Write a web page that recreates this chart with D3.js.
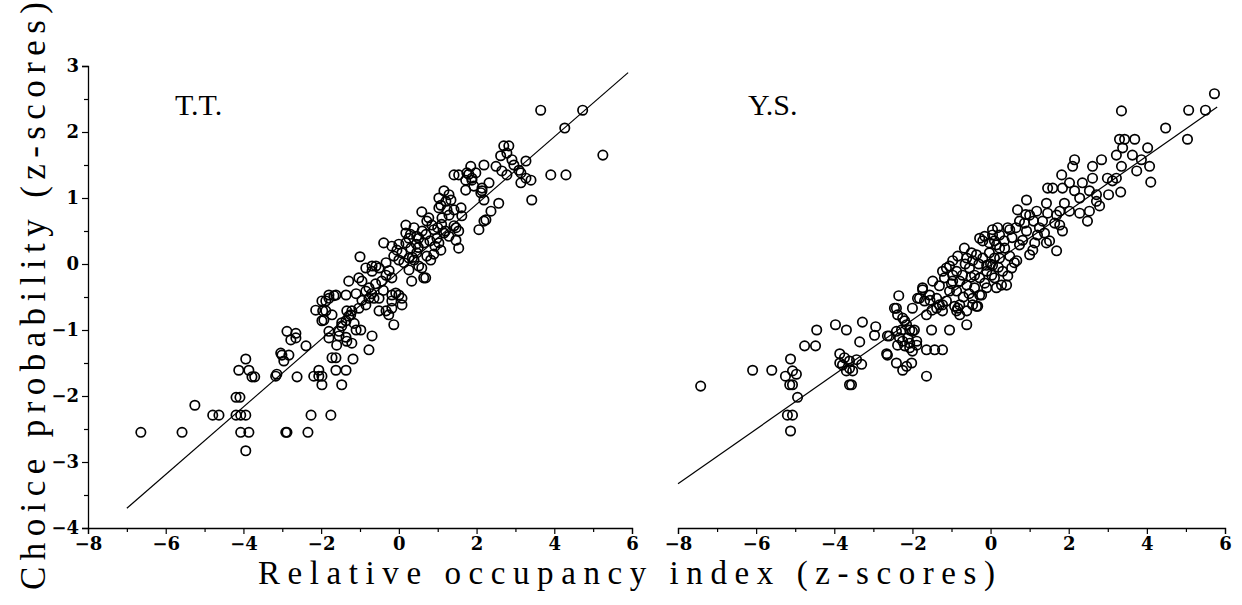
<!DOCTYPE html>
<html><head><meta charset="utf-8">
<script src="https://cdn.jsdelivr.net/npm/d3@7"></script>
<style>body{margin:0;background:#fff}</style>
</head><body>
<svg id="c" width="1242" height="605"></svg>
<script>
const xTickValues = [-8,-7,-6,-5,-4,-3,-2,-1,0,1,2,3,4,5,6];
const yTickValues = [-4,-3.5,-3,-2.5,-2,-1.5,-1,-0.5,0,0.5,1,1.5,2,2.5,3];
const panelLabels = ["T.T.", "Y.S."];
const xTitle = "Relative occupancy index (z-scores)";
const yTitle = "Choice probability (z-scores)";
const ttFit = [[-7,-3.7],[5.9,2.9]];
const ysFit = [[-8,-3.33],[5.8,2.38]];

const ttPoints = [
[-6.64,-2.55],[-5.58,-2.55],[-5.25,-2.14],[-4.79,-2.29],[-4.63,-2.29],[-4.19,-2.02],[-4.09,-2.02],[-4.19,-2.29],[-4.07,-2.29],[-3.94,-2.29],
[-4.07,-2.55],[-3.86,-2.55],[-3.94,-2.83],[-4.12,-1.61],[-3.94,-1.44],[-3.86,-1.61],[-3.78,-1.71],[-3.71,-1.71],[-3.17,-1.70],[-3.14,-1.67],
[-3.01,-1.38],[-3.04,-1.35],[-2.83,-1.38],[-2.96,-1.47],[-2.88,-1.02],[-2.65,-1.05],[-2.78,-1.15],[-2.65,-1.12],[-2.91,-2.55],[-2.88,-2.55],
[-2.34,-2.55],[-2.26,-2.29],[-1.75,-2.29],[-2.62,-1.71],[-2.39,-1.24],[-2.19,-1.70],[-2.06,-1.70],[-1.98,-1.70],[-1.98,-1.83],[-2.06,-1.61],
[-1.72,-1.42],[-1.62,-1.42],[-1.62,-1.61],[-1.36,-1.61],[-1.47,-1.83],[-1.18,-1.44],[-0.98,-1.00],[-0.69,-1.09],[-0.77,-1.30],
[-1.96,-0.71],[-1.88,-0.56],[-1.80,-0.52],[-1.67,-0.48],[-2.14,-0.70],[-1.93,-0.85],[-1.80,-1.12],[-1.54,-1.09],[-1.36,-1.11],[-1.60,-1.23],
[-1.34,-1.17],[-1.21,-1.20],[-1.47,-0.94],[-1.29,-0.79],[-1.21,-0.71],[-1.03,-0.67],[-0.85,-0.62],[-0.77,-0.52],[-0.85,-0.41],[-0.95,-0.26],
[-1.29,-0.26],[-0.69,-0.11],[-0.51,-0.06],[-0.33,-0.17],[-0.18,-0.21],[-0.18,-0.47],[-0.18,-0.67],[-0.13,-0.92],[-0.26,-0.77],[-0.51,-0.71],
[-0.44,-0.26],[-0.85,-0.06],[-1.00,0.11],[-1.80,-0.47],[-1.62,-0.47],[-1.36,-0.47],[-1.98,-0.56],[-1.88,-0.71],[-1.72,-0.77],[-1.98,-0.86],
[-1.80,-1.02],[-1.54,-1.02],[-1.34,-0.71],[-1.24,-0.77],[-1.36,-0.86],[-1.47,-0.89],[-1.03,-0.21],[-0.77,-0.36],[-0.64,-0.52],[-0.59,-0.03],
[-0.69,-0.03],[-0.25,-0.10],[-0.40,-0.40],[-0.60,-0.30],[-0.70,-0.45],[-1.10,-0.45],[-0.95,-0.55],[-1.15,-0.90],[-1.10,-1.00],
[-0.33,0.02],[-0.39,0.32],[-0.18,0.27],[-0.05,0.21],[0.08,0.17],[0.00,0.06],[0.13,0.02],[0.26,0.09],[-0.13,0.12],[0.18,0.32],
[0.31,0.24],[0.46,0.17],[0.39,0.06],[0.51,-0.03],[0.26,-0.09],[0.33,-0.26],[0.64,-0.21],[0.69,-0.21],[0.59,-0.06],[0.72,0.12],
[0.82,0.06],[0.00,-0.47],[0.08,-0.62],[-0.18,-0.56],[-0.51,-0.52],[-0.33,-0.71],[-0.08,-0.44],[0.08,-0.52],[0.18,0.47],[0.26,0.39],
[0.46,0.42],[0.39,0.55],[0.18,0.59],[0.59,0.79],[0.72,0.65],[0.77,0.70],[0.85,0.59],[0.90,0.52],[0.98,0.39],[1.11,0.70],
[1.16,0.47],[1.29,0.74],[1.29,0.42],[1.42,0.82],[1.42,0.58],[1.60,0.85],[1.62,0.73],[1.47,0.55],[1.54,0.50],[1.47,0.36],
[1.54,0.24],[1.08,0.21],[1.03,0.32],[0.93,0.27],[0.64,0.32],[0.51,0.39],[1.16,1.11],[1.03,1.00],[1.29,1.05],[1.34,0.97],
[1.08,0.89],[1.21,0.95],[1.03,0.85],[1.24,0.82],[0.50,0.25],[0.60,0.50],[0.70,0.45],[0.80,0.35],[1.00,0.55],[1.10,0.60],
[1.20,0.50],[0.35,0.10],[0.45,0.30],[0.90,0.15],[0.30,0.45],[0.00,0.30],
[1.42,1.35],[1.54,1.35],[1.75,1.38],[1.85,1.48],[2.19,1.50],[1.98,1.38],[1.80,1.36],[1.72,1.27],[1.88,1.27],[2.50,1.48],
[2.78,1.35],[3.14,1.38],[3.27,1.30],[3.14,1.23],[2.32,1.23],[2.14,1.11],[2.19,0.97],[2.57,0.92],[2.37,0.80],[2.19,0.65],
[2.06,0.52],[2.24,0.67],[2.11,1.08],[2.14,1.15],[1.72,1.12],[1.93,1.18],[1.88,1.30],[2.70,1.79],[2.83,1.79],[2.78,1.68],
[2.62,1.64],[2.91,1.58],[3.09,1.42],[3.27,1.56],[2.96,1.50],[2.65,1.41],[3.91,1.35],[4.30,1.35],[3.42,0.97],[3.65,2.33],
[4.73,2.33],[4.27,2.06],[5.25,1.65],[3.40,1.27]
];

const ysPoints = [
[-7.42,-1.85],[-6.09,-1.61],[-5.60,-1.61],[-5.12,-1.44],[-5.25,-1.70],[-5.07,-1.62],[-4.97,-1.67],[-5.14,-1.83],[-5.07,-1.83],[-4.94,-2.02],
[-5.20,-2.29],[-5.07,-2.29],[-5.12,-2.53],[-4.76,-1.24],[-4.48,-1.24],[-4.45,-1.00],[-3.97,-0.92],[-3.69,-1.00],[-3.28,-0.88],[-2.94,-0.95],
[-2.97,-1.08],[-3.35,-1.18],[-3.86,-1.36],[-3.74,-1.42],[-3.61,-1.47],[-3.43,-1.45],[-3.30,-1.52],[-3.79,-1.53],[-3.61,-1.58],[-3.53,-1.62],
[-3.69,-1.62],[-3.86,-1.50],[-3.61,-1.83],[-3.56,-1.83],[-2.64,-1.09],[-2.66,-1.36],[-2.64,-1.38],[-2.41,-1.50],[-2.15,-1.55],[-2.02,-1.50],
[-2.25,-1.61],[-1.64,-1.70],[-1.64,-1.30],[-1.43,-1.30],[-1.23,-1.30],[-2.38,-1.23],[-2.20,-1.24],[-2.07,-1.27],[-1.89,-1.23],[-2.33,-1.12],
[-2.12,-1.12],[-2.00,-1.02],[-2.28,-1.00],[-2.20,-0.86],[-2.38,-0.77],[-2.41,-0.67],[-2.35,-0.48],[-2.25,-0.82],[-1.64,-0.77],[-1.51,-1.00],
[-1.05,-1.00],[-1.38,-0.67],[-1.23,-0.71],[-1.82,-0.52],[-1.74,-0.39],[-1.56,-0.47],[-1.48,-0.26],[-1.31,-0.33],[-1.18,-0.21],[-1.13,-0.06],
[-0.97,0.05],[-0.87,-0.11],[-0.97,-0.26],[-1.05,-0.41],[-1.13,-0.56],[-0.84,-0.67],[-1.23,-0.62],[-1.38,-0.52],[-2.59,-1.09],[-2.41,-1.02],
[-2.46,-0.67],[-2.07,-1.00],[-1.95,-1.00],[-1.89,-1.17],[-2.25,-1.17],[-1.87,-0.52],[-1.69,-0.56],[-1.31,-0.62],[-0.97,-0.17],[-0.84,0.12],
[-0.61,0.09],[-0.46,0.05],[-0.36,0.14],[-0.54,-0.06],[-0.41,-0.17],[-0.72,-0.17],[-0.79,-0.26],[-0.61,-0.32],[-0.87,-0.41],[-0.79,-0.62],
[-0.87,-0.71],[-0.61,-0.71],[-0.46,-0.62],[-0.33,-0.64],[-0.23,-0.47],[-0.10,-0.36],[0.03,-0.17],[-0.10,-0.02],[-0.20,0.09],[0.10,0.09],
[0.15,0.29],[-0.28,0.39],[-0.15,0.42],[0.05,0.52],[0.18,0.55],[0.23,0.44],[-0.61,-0.92],[-1.05,-0.03],[-1.23,-0.11],[-1.74,-0.36],
[-2.00,-0.67],[-2.15,-0.92],[-2.07,-1.20],[-2.00,-1.32],[-0.92,-0.64],[-0.79,-0.77],[-0.46,-0.52],[-0.28,-0.47],[-0.36,-0.64],[-0.28,-0.21],
[-0.10,-0.11],[0.05,-0.02],[0.23,0.09],[0.31,-0.11],[0.28,-0.32],[0.41,-0.32],[0.15,-0.36],
[-0.50,-0.20],[-0.30,0.00],[0.00,0.00],[0.20,-0.05],[0.35,0.35],[0.55,0.40],[0.65,0.55],[-0.55,-0.45],[-0.70,-0.50],[-1.00,-0.30],
[-0.65,0.00],[0.10,0.35],[0.90,0.75],[1.10,0.65],[-1.50,-0.70],[-1.55,-0.55],
[3.35,2.32],[3.30,1.89],[3.43,1.89],[3.69,1.89],[4.02,1.76],[3.38,1.76],[3.22,1.65],[3.63,1.65],[3.86,1.58],[3.35,1.48],
[3.74,1.41],[4.07,1.48],[4.10,1.24],[3.33,1.09],[3.02,1.05],[2.99,1.30],[3.22,1.30],[2.15,1.58],[2.10,1.48],[2.84,1.58],
[2.61,1.48],[2.61,1.30],[2.35,1.23],[1.82,1.35],[2.02,1.23],[1.84,1.15],[2.15,1.11],[1.59,1.15],[1.46,1.15],[2.28,1.00],
[2.53,1.11],[2.71,1.05],[2.71,0.95],[2.79,0.88],[2.53,0.80],[2.48,0.65],[2.28,0.77],[2.02,0.80],[1.77,0.80],[0.92,0.97],
[0.69,0.82],[0.74,0.65],[1.00,0.74],[1.18,0.80],[1.43,0.92],[1.46,0.77],[1.33,0.65],[1.69,0.74],[1.77,0.59],[1.84,0.50],
[1.51,0.35],[1.69,0.20],[1.13,0.32],[1.20,0.44],[0.92,0.50],[0.82,0.36],[0.49,0.52],[0.05,0.44],[-0.20,0.35],[0.61,0.02],
[1.00,0.14],[0.74,0.29],[5.73,2.58],[5.07,2.33],[5.50,2.33],[4.48,2.06],[5.04,1.89],[3.12,1.26],[0.44,0.55],[0.67,0.05],
[1.43,0.32],[-0.67,0.24],[-0.49,0.17],[-0.03,0.17],[0.36,0.24],[0.49,0.12],[0.54,-0.06],[0.10,-0.21],[-0.15,-0.29],[-0.41,-0.36],
[0.44,-0.18],[0.23,0.24],[-0.03,0.32],[0.87,0.62],[1.25,0.55],[1.08,0.21],[1.38,0.47],[1.64,0.62],[1.89,0.92]
];

const svg = d3.select("#c");
const serif = "'Liberation Serif', 'DejaVu Serif', serif";
const tickFont = "'DejaVu Serif', serif";
const y = d3.scaleLinear().domain([-4, 3]).range([528, 66]);
const xL = d3.scaleLinear().domain([-8, 6]).range([88, 632]);
const xR = d3.scaleLinear().domain([-8, 6]).range([678, 1225]);
const fmt = d => d < 0 ? "\u2212" + Math.abs(d) : String(d);

function styleAxis(g) {
  g.attr("font-size", null).attr("font-family", null);
  g.select(".domain").attr("stroke", "#000").attr("stroke-width", 1.3);
  g.selectAll(".tick line").attr("stroke", "#000").attr("stroke-width", 1.2);
  g.selectAll(".tick text")
    .style("font-family", tickFont).style("font-weight", "bold")
    .style("font-size", "18px").attr("fill", "#000");
}

function panel(x, pts, fit, label, withYAxis, labelX) {
  const gx = svg.append("g").attr("transform", `translate(0,${y(-4)})`)
    .call(d3.axisBottom(x).tickValues(xTickValues).tickSizeOuter(0).tickSize(6).tickPadding(3)
      .tickFormat(d => d % 2 === 0 ? fmt(d) : ""));
  styleAxis(gx);
  gx.selectAll(".tick line").attr("y2", d => d % 2 === 0 ? 6 : 4);

  if (withYAxis) {
    const gy = svg.append("g").attr("transform", `translate(${x(-8)},0)`)
      .call(d3.axisLeft(y).tickValues(yTickValues).tickSizeOuter(0).tickSize(6).tickPadding(3)
        .tickFormat(d => Number.isInteger(d) ? fmt(d) : ""));
    styleAxis(gy);
    gy.selectAll(".tick line").attr("x2", d => Number.isInteger(d) ? -6 : -4);
  }

  svg.append("line")
    .attr("x1", x(fit[0][0])).attr("y1", y(fit[0][1]))
    .attr("x2", x(fit[1][0])).attr("y2", y(fit[1][1]))
    .attr("stroke", "#000").attr("stroke-width", 1.2);

  svg.append("g").selectAll("circle").data(pts).join("circle")
    .attr("cx", d => x(d[0])).attr("cy", d => y(d[1])).attr("r", 4.7)
    .attr("fill", "none").attr("stroke", "#000").attr("stroke-width", 1.7);

  svg.append("text").attr("x", labelX).attr("y", 115)
    .attr("font-family", serif).attr("font-size", 30).attr("fill", "#000").text(label);
}

panel(xL, ttPoints, ttFit, panelLabels[0], true, 175);
panel(xR, ysPoints, ysFit, panelLabels[1], false, 748);

svg.append("text").attr("x", 258).attr("y", 584)
  .attr("font-family", serif).attr("font-size", 33).attr("fill", "#000")
  .attr("textLength", 737).attr("lengthAdjust", "spacing").text(xTitle);

svg.append("text").attr("transform", "translate(45,590) rotate(-90)")
  .attr("font-family", serif).attr("font-size", 35).attr("fill", "#000")
  .attr("textLength", 588).attr("lengthAdjust", "spacing").text(yTitle);
</script>
</body></html>
